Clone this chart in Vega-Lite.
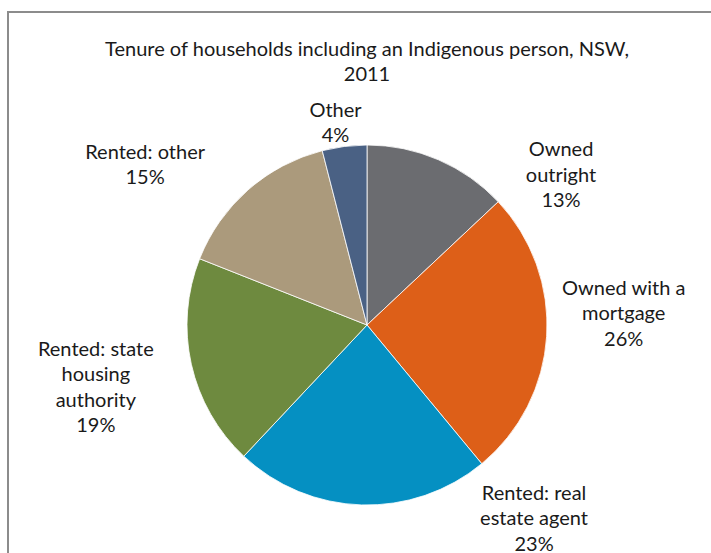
{
  "$schema": "https://vega.github.io/schema/vega-lite/v6.json",
  "width": 718,
  "height": 626,
  "autosize": {"type": "none"},
  "padding": {"left": 8, "top": 12, "right": 0, "bottom": 0},
  "background": "white",
  "config": {
    "view": {"stroke": null},
    "font": "Lato"
  },
  "title": {
    "text": ["Tenure of households including an Indigenous person, NSW,", "2011"],
    "anchor": "middle",
    "frame": "group",
    "orient": "top",
    "baseline": "bottom",
    "offset": -94,
    "fontSize": 20,
    "fontWeight": "normal",
    "font": "Lato",
    "color": "#1a1a1a",
    "lineHeight": 25
  },
  "data": {
    "values": [
      {"category": "Owned outright", "value": 13, "order": 1, "label": "Owned\noutright\n13%"},
      {"category": "Owned with a mortgage", "value": 26, "order": 2, "label": "Owned with a\nmortgage\n26%"},
      {"category": "Rented: real estate agent", "value": 23, "order": 3, "label": "Rented: real\nestate agent\n23%"},
      {"category": "Rented: state housing authority", "value": 19, "order": 4, "label": "Rented: state\nhousing\nauthority\n19%"},
      {"category": "Rented: other", "value": 15, "order": 5, "label": "Rented: other\n15%"},
      {"category": "Other", "value": 4, "order": 6, "label": "Other\n4%"}
    ]
  },
  "transform": [
    {"stack": "value", "groupby": [], "sort": [{"field": "order", "order": "ascending"}], "as": ["v0", "v1"]}
  ],
  "layer": [
    {
      "transform": [{"aggregate": [{"op": "count", "as": "n"}]}],
      "mark": {"type": "rect", "filled": false, "stroke": "#8c8c8c", "strokeWidth": 2},
      "encoding": {
        "x": {"value": 0},
        "x2": {"value": "width"},
        "y": {"value": 0},
        "y2": {"value": "height"}
      }
    },
    {
      "mark": {"type": "arc", "outerRadius": 180, "stroke": "white", "strokeWidth": 0.8},
      "encoding": {
        "theta": {"field": "v0", "type": "quantitative", "scale": {"domain": [0, 100]}},
        "theta2": {"field": "v1"},
        "color": {
          "field": "category",
          "type": "nominal",
          "legend": null,
          "scale": {
            "domain": ["Owned outright", "Owned with a mortgage", "Rented: real estate agent", "Rented: state housing authority", "Rented: other", "Other"],
            "range": ["#6b6c70", "#dd5f18", "#0590c2", "#6e8a3f", "#ab9a7c", "#4a6184"]
          }
        }
      }
    },
    {
      "transform": [{"filter": {"field": "category", "equal": "Owned outright"}}],
      "mark": {"type": "text", "radius": 215, "dx": 194, "dy": 40, "align": "center", "baseline": "middle", "lineBreak": "\n", "lineHeight": 25.5, "fontSize": 20, "color": "#1a1a1a"},
      "encoding": {"theta": {"field": "v0", "type": "quantitative"}, "text": {"field": "label"}}
    },
    {
      "transform": [{"filter": {"field": "category", "equal": "Owned with a mortgage"}}],
      "mark": {"type": "text", "radius": 215, "dx": 100, "dy": 111, "align": "center", "baseline": "middle", "lineBreak": "\n", "lineHeight": 25.5, "fontSize": 20, "color": "#1a1a1a"},
      "encoding": {"theta": {"field": "v0", "type": "quantitative"}, "text": {"field": "label"}}
    },
    {
      "transform": [{"filter": {"field": "category", "equal": "Rented: real estate agent"}}],
      "mark": {"type": "text", "radius": 215, "dx": 30, "dy": 3, "align": "center", "baseline": "middle", "lineBreak": "\n", "lineHeight": 25.5, "fontSize": 20, "color": "#1a1a1a"},
      "encoding": {"theta": {"field": "v0", "type": "quantitative"}, "text": {"field": "label"}}
    },
    {
      "transform": [{"filter": {"field": "category", "equal": "Rented: state housing authority"}}],
      "mark": {"type": "text", "radius": 215, "dx": -124, "dy": -132, "align": "center", "baseline": "middle", "lineBreak": "\n", "lineHeight": 25.5, "fontSize": 20, "color": "#1a1a1a"},
      "encoding": {"theta": {"field": "v0", "type": "quantitative"}, "text": {"field": "label"}}
    },
    {
      "transform": [{"filter": {"field": "category", "equal": "Rented: other"}}],
      "mark": {"type": "text", "radius": 215, "dx": -22, "dy": -93, "align": "center", "baseline": "middle", "lineBreak": "\n", "lineHeight": 25.5, "fontSize": 20, "color": "#1a1a1a"},
      "encoding": {"theta": {"field": "v0", "type": "quantitative"}, "text": {"field": "label"}}
    },
    {
      "transform": [{"filter": {"field": "category", "equal": "Other"}}],
      "mark": {"type": "text", "radius": 215, "dx": 22, "dy": -6, "align": "center", "baseline": "middle", "lineBreak": "\n", "lineHeight": 25.5, "fontSize": 20, "color": "#1a1a1a"},
      "encoding": {"theta": {"field": "v0", "type": "quantitative"}, "text": {"field": "label"}}
    }
  ]
}
